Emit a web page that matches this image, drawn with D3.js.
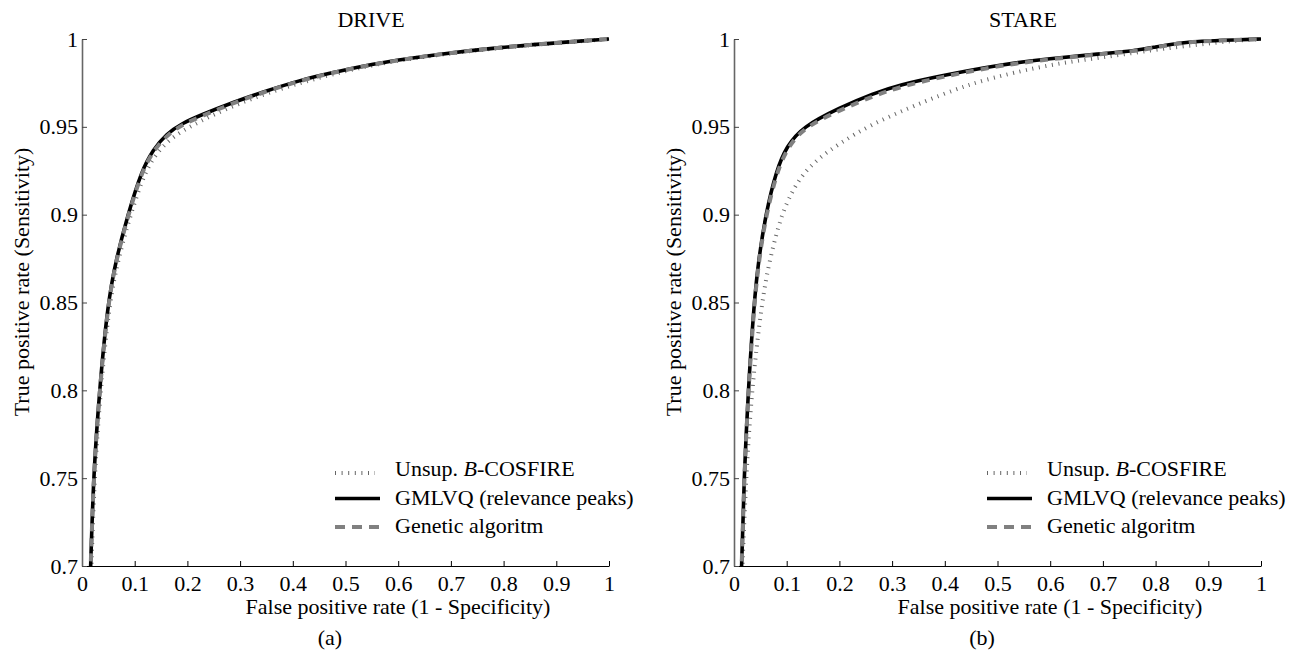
<!DOCTYPE html>
<html>
<head>
<meta charset="utf-8">
<script src="https://cdn.jsdelivr.net/npm/d3@7"></script>
<style>
  html, body { margin: 0; padding: 0; background: #fff; }
  svg text { font-family: "Liberation Serif", "Times New Roman", Times, serif; fill: #000; }
</style>
</head>
<body>
<svg id="fig" width="1305" height="652"></svg>
<script>
// ROC curves: false positive rate vs. true positive rate
const panelTitles = ["DRIVE", "STARE"];
const panelCaptions = ["(a)", "(b)"];
const xTicks = [0, 0.1, 0.2, 0.3, 0.4, 0.5, 0.6, 0.7, 0.8, 0.9, 1];
const xTickLabels = ["0", "0.1", "0.2", "0.3", "0.4", "0.5", "0.6", "0.7", "0.8", "0.9", "1"];
const yTicks = [0.7, 0.75, 0.8, 0.85, 0.9, 0.95, 1];
const yTickLabels = ["0.7", "0.75", "0.8", "0.85", "0.9", "0.95", "1"];
const seriesNames = ["Unsup. B-COSFIRE", "GMLVQ (relevance peaks)", "Genetic algoritm"];

// DRIVE — [fpr, tpr]
const driveUnsup = [
  [0.013, 0.66], [0.018, 0.70], [0.0235, 0.75], [0.035, 0.80], [0.052, 0.85], [0.069, 0.875],
  [0.092, 0.90], [0.120, 0.925], [0.145, 0.9365], [0.173, 0.9445], [0.210, 0.9510],
  [0.250, 0.9570], [0.300, 0.9635], [0.350, 0.9690], [0.4137, 0.9750], [0.470, 0.9795],
  [0.540, 0.9845], [0.600, 0.9877], [0.667, 0.9907], [0.793, 0.9951], [0.920, 0.9982], [1.0, 1.0]
];
const driveGmlvq = [
  [0.012, 0.66], [0.0165, 0.70], [0.0215, 0.75], [0.033, 0.80], [0.049, 0.85], [0.065, 0.875],
  [0.087, 0.90], [0.113, 0.925], [0.135, 0.937], [0.160, 0.946], [0.190, 0.952],
  [0.224, 0.9565], [0.287, 0.9640], [0.350, 0.9705], [0.4137, 0.9765], [0.470, 0.9805],
  [0.540, 0.9850], [0.600, 0.9880], [0.667, 0.9910], [0.793, 0.9953], [0.920, 0.9983], [1.0, 1.0]
];
const driveGenetic = [
  [0.012, 0.66], [0.0166, 0.70], [0.0217, 0.75], [0.0333, 0.80], [0.0495, 0.85], [0.0655, 0.875],
  [0.088, 0.90], [0.114, 0.925], [0.137, 0.937], [0.162, 0.9455], [0.192, 0.9515],
  [0.226, 0.9560], [0.288, 0.9637], [0.350, 0.9702], [0.4137, 0.9763], [0.470, 0.9804],
  [0.540, 0.9849], [0.600, 0.9879], [0.667, 0.9909], [0.793, 0.9953], [0.920, 0.9983], [1.0, 1.0]
];

// STARE — [fpr, tpr]
const stareUnsup = [
  [0.011, 0.66], [0.016, 0.70], [0.0228, 0.75], [0.0335, 0.80], [0.0525, 0.85], [0.068, 0.875],
  [0.090, 0.90], [0.110, 0.913], [0.130, 0.923], [0.160, 0.932], [0.200, 0.9405],
  [0.258, 0.9510], [0.330, 0.9605], [0.391, 0.9680], [0.450, 0.9745], [0.505, 0.9790],
  [0.600, 0.9855], [0.694, 0.9893], [0.789, 0.9935], [0.884, 0.9970], [0.950, 0.9990], [1.0, 1.0]
];
const stareGmlvq = [
  [0.010, 0.66], [0.0146, 0.70], [0.019, 0.75], [0.027, 0.80], [0.038, 0.85], [0.047, 0.875],
  [0.060, 0.90], [0.080, 0.925], [0.100, 0.939], [0.130, 0.950], [0.201, 0.9610],
  [0.264, 0.9690], [0.315, 0.9740], [0.391, 0.9790], [0.505, 0.9855], [0.600, 0.9888],
  [0.694, 0.9916], [0.760, 0.9932], [0.800, 0.9955], [0.840, 0.9976], [0.884, 0.9988], [0.950, 0.9995], [1.0, 1.0]
];
const stareGenetic = [
  [0.010, 0.66], [0.0147, 0.70], [0.0192, 0.75], [0.0273, 0.80], [0.0385, 0.85], [0.0478, 0.875],
  [0.061, 0.90], [0.082, 0.925], [0.103, 0.939], [0.135, 0.950], [0.201, 0.9595],
  [0.264, 0.9675], [0.315, 0.9728], [0.391, 0.9782], [0.505, 0.9850], [0.600, 0.9885],
  [0.694, 0.9914], [0.760, 0.9930], [0.800, 0.9952], [0.840, 0.9974], [0.884, 0.9987], [0.950, 0.9995], [1.0, 1.0]
];

const panels = [
  { title: panelTitles[0], caption: panelCaptions[0], series: [driveUnsup, driveGmlvq, driveGenetic] },
  { title: panelTitles[1], caption: panelCaptions[1], series: [stareUnsup, stareGmlvq, stareGenetic] }
];

// Layout
const FONT = 22;
const panelShift = 652;
const plotLeft = 82, plotTop = 39, plotW = 527, plotH = 527;

const styles = [
  { stroke: "#666", width: 4, dash: "1,5.6" },   // dotted
  { stroke: "#000", width: 3.6, dash: null },    // solid
  { stroke: "#808080", width: 4, dash: "8,7" }   // dashed
];
const legendDash = ["1,5.6", null, "10,7"];

const svg = d3.select("#fig");

panels.forEach((p, pi) => {
  const ox = plotLeft + pi * panelShift;
  const g = svg.append("g").attr("transform", `translate(${ox},${plotTop})`);

  const x = d3.scaleLinear().domain([0, 1]).range([0, plotW]);
  const y = d3.scaleLinear().domain([0.7, 1]).range([plotH, 0]);

  const clipId = "clip" + pi;
  g.append("clipPath").attr("id", clipId)
    .append("rect").attr("x", 0).attr("y", -4).attr("width", plotW + 4).attr("height", plotH + 4);

  // smooth B-spline through the sampled ROC points
  const line = d3.line()
    .x(d => x(d[0]))
    .y(d => y(d[1]))
    .curve(d3.curveBasis);

  const curves = g.append("g").attr("clip-path", `url(#${clipId})`);
  p.series.forEach((s, si) => {
    const st = styles[si];
    curves.append("path")
      .datum(s)
      .attr("d", line)
      .attr("fill", "none")
      .attr("stroke", st.stroke)
      .attr("stroke-width", st.width)
      .attr("stroke-dasharray", st.dash)
      .attr("stroke-linejoin", "round");
  });

  // Axes (ticks point inward)
  const xAxis = d3.axisBottom(x)
    .tickValues(xTicks)
    .tickFormat((d, i) => xTickLabels[i])
    .tickSize(-5).tickSizeOuter(0).tickPadding(9);
  const gx = g.append("g").attr("transform", `translate(0,${plotH})`).call(xAxis);
  gx.attr("font-family", null);
  gx.select(".domain").attr("stroke", "#000").attr("stroke-width", 1.2);
  gx.selectAll(".tick line").attr("stroke", "#000");
  gx.selectAll(".tick text").attr("font-size", FONT).attr("fill", "#000");

  const yAxis = d3.axisLeft(y)
    .tickValues(yTicks)
    .tickFormat((d, i) => yTickLabels[i])
    .tickSize(-5).tickSizeOuter(0).tickPadding(4);
  const gy = g.append("g").call(yAxis);
  gy.attr("font-family", null);
  gy.select(".domain").attr("stroke", "#666").attr("stroke-width", 1.6);
  gy.selectAll(".tick line").attr("stroke", "#444");
  gy.selectAll(".tick text").attr("font-size", FONT).attr("fill", "#000");

  // Title
  svg.append("text")
    .attr("x", 371 + pi * panelShift).attr("y", 27)
    .attr("text-anchor", "middle").attr("font-size", FONT)
    .text(p.title);

  // Axis labels
  svg.append("text")
    .attr("x", 398 + pi * panelShift).attr("y", 614)
    .attr("text-anchor", "middle").attr("font-size", FONT)
    .text("False positive rate (1 - Specificity)");

  svg.append("text")
    .attr("transform", `translate(${29 + pi * panelShift},282) rotate(-90)`)
    .attr("text-anchor", "middle").attr("font-size", FONT)
    .text("True positive rate (Sensitivity)");

  // Sub-caption
  svg.append("text")
    .attr("x", 330 + pi * panelShift).attr("y", 645)
    .attr("text-anchor", "middle").attr("font-size", FONT)
    .text(p.caption);

  // Legend
  const lg = svg.append("g").attr("transform", `translate(${335 + pi * panelShift},0)`);
  const rowsY = [473, 498.5, 527];
  const textY = [476, 505, 533];
  const lineEnds = [40, 45, 45];
  seriesNames.forEach((name, si) => {
    const st = styles[si];
    lg.append("line")
      .attr("x1", 0).attr("x2", lineEnds[si])
      .attr("y1", rowsY[si]).attr("y2", rowsY[si])
      .attr("stroke", st.stroke)
      .attr("stroke-width", st.width)
      .attr("stroke-dasharray", legendDash[si]);
    const t = lg.append("text").attr("x", 60).attr("y", textY[si]).attr("font-size", FONT);
    if (si === 0) {
      t.append("tspan").text("Unsup. ");
      t.append("tspan").attr("font-style", "italic").text("B");
      t.append("tspan").text("-COSFIRE");
    } else {
      t.text(name);
    }
  });
});
</script>
</body>
</html>
